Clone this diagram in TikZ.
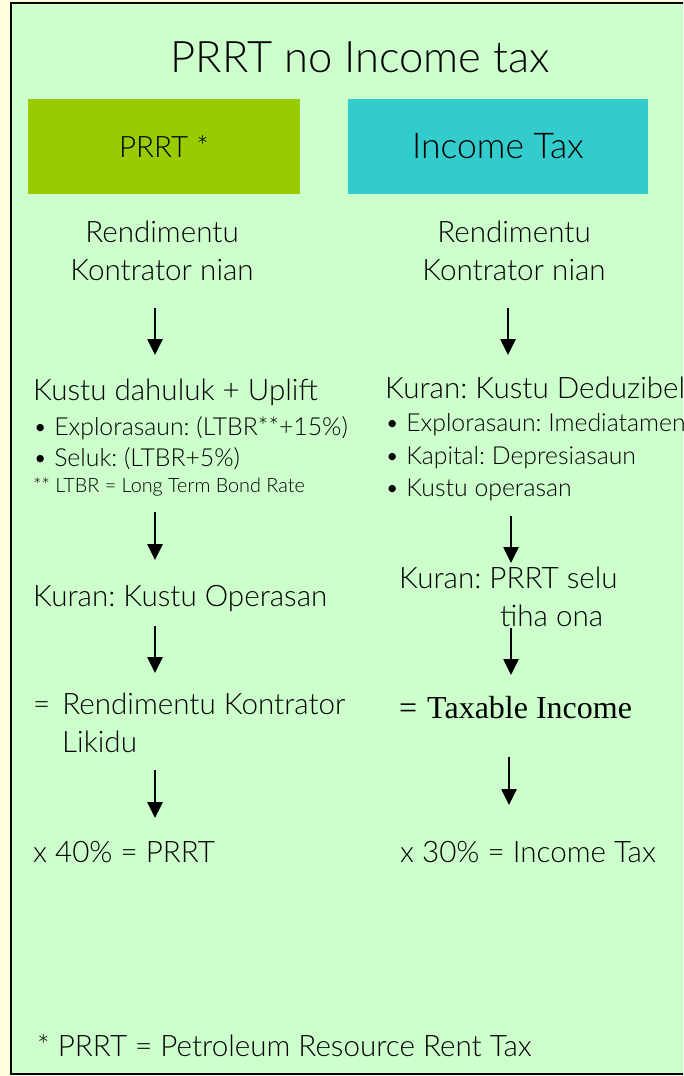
\documentclass[tikz,border=0pt]{standalone}
\usepackage{fontspec}
\setmainfont{Lato Light}
\newfontfamily\serifrm{Liberation Serif}
\usepackage{tikz}
\usetikzlibrary{positioning, arrows.meta}
\frenchspacing
\definecolor{paleyellow}{HTML}{FFFFE0}
\definecolor{palegreen}{HTML}{CCFFCC}
\definecolor{prrtgreen}{HTML}{99CC00}
\definecolor{taxcyan}{HTML}{33CCCC}
\tikzset{body/.style={
    inner sep=0pt,
    anchor=base west,
    font=\fontsize{29.6}{38}\selectfont
}}
\tikzset{small/.style={
    body,
    font=\fontsize{24.8}{30}\selectfont
}}
\tikzset{header/.style={
    rectangle,
    inner sep=0pt,
    font=\fontsize{29.5}{34}\selectfont
}}

\begin{document}
\begin{tikzpicture}[
    x=1pt, y=-1pt,
    >={Triangle[width=15pt, length=16pt]},
    flow/.style={->, line width=2.6pt, black},
]
    \useasboundingbox (0,0) rectangle (683,1076);
    \clip (0,0) rectangle (683,1076);
    \fill [paleyellow] (0,0) rectangle (683,1076);
    \draw [fill=palegreen, line width=1.6pt] (11,3) rectangle (700,1074);

    % Title and headers
    \node (title) [inner sep=0pt, font=\fontsize{43.5}{48}\selectfont] at (360,57) {PRRT no Income tax};
    \node (hprrt) [header, fill=prrtgreen, minimum width=272pt, minimum height=95pt] at (164,146.5) {PRRT *};
    \node (htax)  [header, fill=taxcyan, minimum width=300pt, minimum height=95pt,
                   font=\fontsize{35.5}{40}\selectfont] at (498,146.5) {Income Tax};

    % PRRT column
    \node (lrend) [body, anchor=base, align=center] at (162,280) {Rendimentu\\Kontrator nian};
    \node (lcost) [body] at (33,400) {Kustu dahuluk + Uplift};
    \node (lexp)  [small] at (33,435) {• Explorasaun: (LTBR**+15\%)};
    \node (lsel)  [small] at (33,466) {• Seluk: (LTBR+5\%)};
    \node (lnote) [body, font=\fontsize{19.8}{22}\selectfont] at (33,492) {** LTBR = Long Term Bond Rate};
    \node (lop)   [body] at (33,606) {Kuran: Kustu Operasan};
    \node (lnet)  [body] at (33,714) {=\hspace{12pt}Rendimentu Kontrator};
    \node (lliq)  [body] at (62,752) {Likidu};
    \node (lprrt) [body] at (33,862) {x 40\% = PRRT};

    % Income tax column
    \node (rrend) [body, anchor=base, align=center] at (514,280) {Rendimentu\\Kontrator nian};
    \node (rded)  [body] at (385,398) {Kuran: Kustu Deduzibel};
    \node (rexp)  [small] at (385,431) {• Explorasaun: Imediatamente};
    \node (rcap)  [small] at (385,464) {• Kapital: Depresiasaun};
    \node (rop)   [small] at (385,496) {• Kustu operasan};
    \node (rsel)  [body] at (399,588) {Kuran: PRRT selu};
    \node (rpaid) [body] at (500,626) {tiha ona};
    \node (rtax)  [body, font=\serifrm\fontsize{32}{36}\selectfont] at (399,718) {=\hspace{10pt}Taxable Income};
    \node (rinc)  [body] at (400,862) {x 30\% = Income Tax};

    \node (foot)  [body] at (37,1056) {* PRRT = Petroleum Resource Rent Tax};

    % arrows
    \foreach \n/\x/\ya/\yb in {l1/155/308/355, l2/155/512/560, l3/155/626/673, l4/155/770/818,
                               r1/508/308/355, r2/511/516/563, r3/511/628/675, r4/509/757/805} {
        \coordinate (\n s) at (\x,\ya);
        \coordinate (\n e) at (\x,\yb);
        \draw [flow] (\n s) -- (\n e);
    }
\end{tikzpicture}
\end{document}
